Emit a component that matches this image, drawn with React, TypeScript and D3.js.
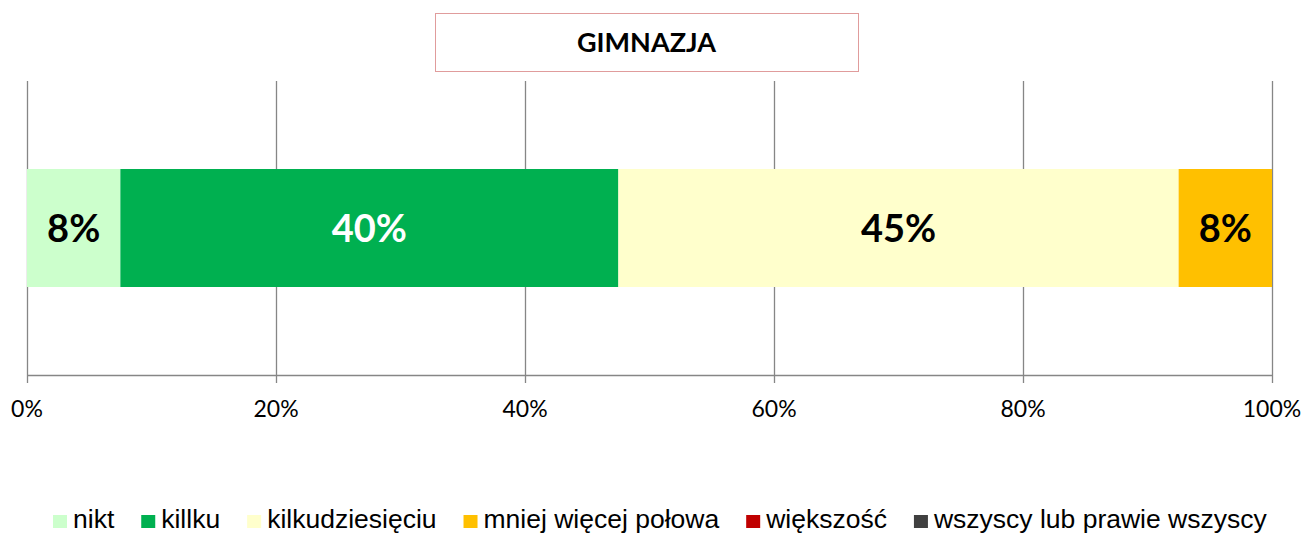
import React from "react"
import * as d3 from "d3"

const W = 1303
const H = 533
const PLOT = { left: 27, right: 1272, top: 81, bottom: 375 }
const BAR = { top: 169, bottom: 287 }

const categories = [
  "nikt",
  "killku",
  "kilkudziesięciu",
  "mniej więcej połowa",
  "większość",
  "wszyscy lub prawie wszyscy",
]
const values = [7.5, 40, 45, 7.5, 0, 0]
const colors = ["#CCFFCC", "#00B050", "#FFFFCC", "#FFC000", "#C00000", "#404040"]
const labelColors = ["#000", "#fff", "#000", "#000", "#000", "#fff"]
const ticks = [0, 20, 40, 60, 80, 100]
const title = "GIMNAZJA"

const LEGEND_SIZE = 26.5
const LEGEND_FONT = `${LEGEND_SIZE}px 'Liberation Sans', Arial, sans-serif`

function measure(text: string, font: string) {
  const c = document.createElement("canvas").getContext("2d")
  if (!c) return text.length * 12
  c.font = font
  return c.measureText(text).width
}

export default function App() {
  const x = d3.scaleLinear().domain([0, 100]).range([PLOT.left, PLOT.right])

  const stacked = d3.cumsum(values)
  const segs = values.map((v, i) => ({
    cat: categories[i],
    v,
    x0: stacked[i] - v,
    x1: stacked[i],
    color: colors[i],
    lc: labelColors[i],
  }))

  // legend layout: square, 6px gap, text, ~28px gap
  let lx = 53
  const legend = categories.map((c, i) => {
    const item = { c, x: lx, color: colors[i] }
    lx += 14 + 6 + measure(c, LEGEND_FONT) + 27
    return item
  })

  return (
    <svg
      width={W}
      height={H}
      style={{ position: "absolute", left: 0, top: 0, background: "#fff" }}
    >
      {/* title box */}
      <rect x={435.5} y={13.5} width={423} height={58} fill="#fff" stroke="#E09C9C" strokeWidth={1} />
      <text
        x={646.5}
        y={52}
        textAnchor="middle"
        fontFamily="Lato, 'Open Sans', sans-serif"
        fontWeight={700}
        fontSize={27}
        fill="#000"
      >
        {title}
      </text>

      {/* gridlines + tick marks */}
      {ticks.map(t => (
        <line
          key={t}
          x1={Math.round(x(t)) + 0.5}
          x2={Math.round(x(t)) + 0.5}
          y1={PLOT.top}
          y2={PLOT.bottom + 8}
          stroke="#868686"
          strokeWidth={1.3}
        />
      ))}
      <line x1={PLOT.left} x2={PLOT.right + 1} y1={PLOT.bottom + 0.5} y2={PLOT.bottom + 0.5} stroke="#868686" strokeWidth={1.3} />

      {/* bars */}
      {segs.map(s =>
        s.v > 0 ? (
          <rect
            key={s.cat}
            x={x(s.x0)}
            y={BAR.top}
            width={x(s.x1) - x(s.x0)}
            height={BAR.bottom - BAR.top}
            fill={s.color}
          />
        ) : null,
      )}
      {segs.map(s =>
        s.v > 0 ? (
          <text
            key={s.cat + "-l"}
            x={(x(s.x0) + x(s.x1)) / 2}
            y={(BAR.top + BAR.bottom) / 2 + 14}
            textAnchor="middle"
            fontFamily="Lato, 'Open Sans', sans-serif"
            fontWeight={700}
            fontSize={38}
            fill={s.lc}
          >
            {d3.format(".0f")(Math.round(s.v))}%
          </text>
        ) : null,
      )}

      {/* tick labels */}
      {ticks.map(t => (
        <text
          key={"t" + t}
          x={x(t)}
          y={417}
          textAnchor="middle"
          fontFamily="Lato, 'Open Sans', sans-serif"
          fontSize={23}
          fill="#000"
        >
          {t}%
        </text>
      ))}

      {/* legend */}
      {legend.map(l => (
        <g key={l.c}>
          <rect x={l.x} y={515} width={14} height={13} fill={l.color} />
          <text
            x={l.x + 20}
            y={528}
            fontFamily="'Liberation Sans', Arial, sans-serif"
            fontSize={LEGEND_SIZE}
            fill="#000"
          >
            {l.c}
          </text>
        </g>
      ))}
    </svg>
  )
}
